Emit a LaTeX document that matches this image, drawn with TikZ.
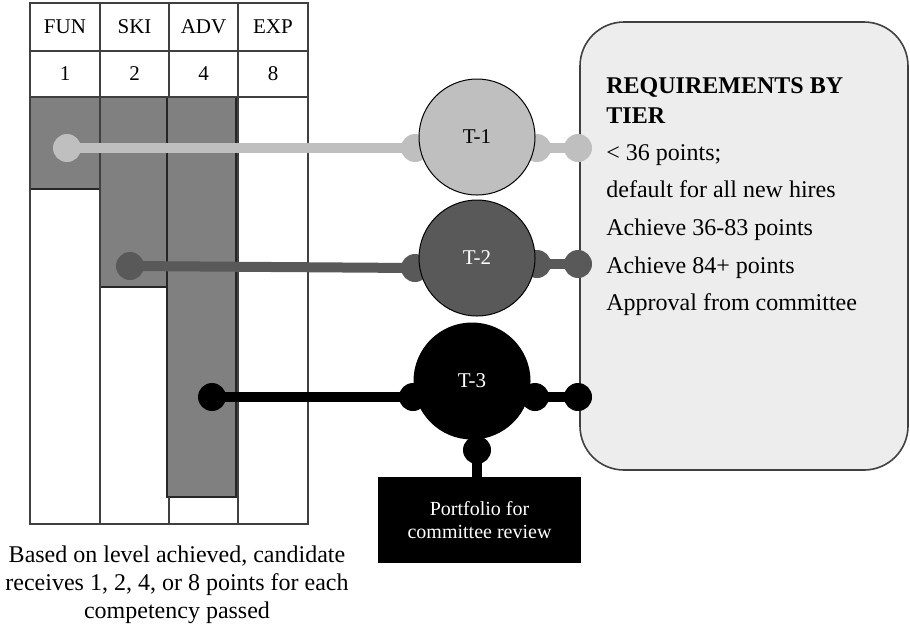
\documentclass[tikz,border=0pt]{standalone}
\usepackage{fontspec}
\setmainfont{Liberation Serif}

\definecolor{tierone}{HTML}{BFBFBF}
\definecolor{tiertwo}{HTML}{595959}
\definecolor{barfill}{HTML}{808080}
\definecolor{reqfill}{HTML}{EDEDED}
\definecolor{gridline}{HTML}{404040}

\tikzset{
  cell/.style={font=\fontsize{10.5}{12}\selectfont},
  bar/.style={fill=barfill, draw=black!85, line width=0.6pt},
  tier/.style={circle, draw=black, line width=0.5pt, minimum size=58pt, inner sep=0pt, font=\fontsize{10.5}{12}\selectfont},
  knob/.style={circle, minimum size=14pt, inner sep=0pt},
  link/.style={line width=5pt},
  reqline/.style={anchor=base west, inner sep=0pt, font=\fontsize{12}{14}\selectfont},
}

\begin{document}
\begin{tikzpicture}[x=0.5pt, y=-0.5pt]
        \useasboundingbox (0,0) rectangle (910,628);
        \draw [draw=gridline, fill=reqfill, line width=0.8pt, rounded corners=22pt] (580,22) rectangle (908,470);
        \node (reqhead) at (606,93) [reqline, font=\fontsize{12}{14}\selectfont\bfseries] {REQUIREMENTS BY};
        \node (reqtier) at (606,123) [reqline, font=\fontsize{12}{14}\selectfont\bfseries] {TIER};
        \node (reqa) at (606,160) [reqline] {< 36 points;};
        \node (reqb) at (606,197) [reqline] {default for all new hires};
        \node (reqc) at (606,235) [reqline] {Achieve 36-83 points};
        \node (reqd) at (606,273) [reqline] {Achieve 84+ points};
        \node (reqe) at (606,310) [reqline] {Approval from committee};

        \draw [bar] (30,97) rectangle (100,189);
        \draw [bar] (100,97) rectangle (167,287);
        \draw [bar] (167,97) rectangle (236,497);
        \draw [gridline, line width=0.8pt] (30,3) rectangle (308,524);
        \draw [gridline, line width=0.8pt] (30,51) -- (308,51);
        \draw [gridline, line width=0.8pt] (30,97) -- (308,97);
        \draw [gridline, line width=0.8pt] (100,3) -- (100,524);
        \draw [gridline, line width=0.8pt] (169,3) -- (169,97);
        \draw [gridline, line width=0.8pt] (169,497) -- (169,524);
        \draw [gridline, line width=0.8pt] (238,3) -- (238,524);
        \node (fun) at (65,27) [cell] {FUN};
        \node (ski) at (134.5,27) [cell] {SKI};
        \node (adv) at (203.5,27) [cell] {ADV};
        \node (exp) at (273,27) [cell] {EXP};
        \node (funpts) at (65,74) [cell] {1};
        \node (skipts) at (134.5,74) [cell] {2};
        \node (advpts) at (203.5,74) [cell] {4};
        \node (exppts) at (273,74) [cell] {8};

        \node (funend) at (67,148) [knob, fill=tierone] {};
        \node (t1in) at (415,148) [knob, fill=tierone] {};
        \node (t1out) at (537,148) [knob, fill=tierone] {};
        \node (t1req) at (578,148) [knob, fill=tierone] {};
        \draw [link, tierone] (funend.center) -- (t1in.center);
        \draw [link, tierone] (t1out.center) -- (t1req.center);

        \node (skiend) at (130,266) [knob, fill=tiertwo] {};
        \node (t2in) at (415,268) [knob, fill=tiertwo] {};
        \node (t2out) at (537,264) [knob, fill=tiertwo] {};
        \node (t2req) at (578,264) [knob, fill=tiertwo] {};
        \draw [link, tiertwo] (skiend.center) -- (t2in.center);
        \draw [link, tiertwo] (t2out.center) -- (t2req.center);

        \node (advend) at (212,397) [knob, fill=black] {};
        \node (t3in) at (413,397) [knob, fill=black] {};
        \node (t3out) at (535,397) [knob, fill=black] {};
        \node (t3req) at (578,397) [knob, fill=black] {};
        \node (t3down) at (477,450) [knob, fill=black] {};
        \draw [link, black] (advend.center) -- (t3in.center);
        \draw [link, black] (t3out.center) -- (t3req.center);

        \node (portfolio) at (479.5,520) [rectangle, fill=black, text=white, minimum width=101.5pt, minimum height=43pt, align=center, font=\fontsize{10}{11.5}\selectfont] {Portfolio for\\committee review};
        \draw [link, black] (t3down.center) -- (t3down.center |- portfolio.north);

        \node (tone) at (477,137) [tier, fill=tierone] {T-1};
        \node (ttwo) at (477,258) [tier, fill=tiertwo, text=white] {T-2};
        \node (tthree) at (472,381) [tier, fill=black, text=white] {T-3};

        \node (caption) at (177,585) [align=center, font=\fontsize{12}{14}\selectfont] {Based on level achieved, candidate\\receives 1, 2, 4, or 8 points for each\\competency passed};
      \end{tikzpicture}
\end{document}
